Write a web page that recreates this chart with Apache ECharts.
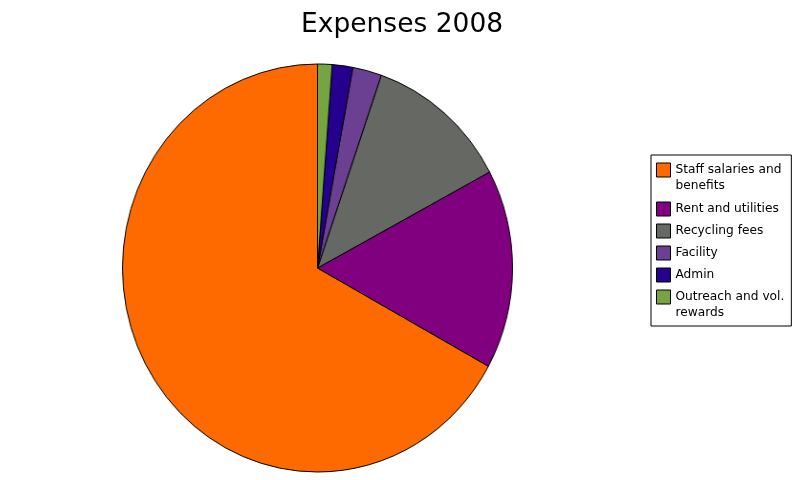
<!DOCTYPE html>
<html>
<head>
<meta charset="utf-8">
<script src="https://cdn.jsdelivr.net/npm/echarts@6/dist/echarts.min.js"></script>
<style>
html,body{margin:0;padding:0;background:#fff;}
#wrap{position:relative;width:800px;height:480px;overflow:hidden;}
#pie{position:absolute;left:0;top:0;width:800px;height:480px;transform:scaleX(0.956);transform-origin:317.5px 268px;}
#chart{position:absolute;left:0;top:0;width:800px;height:480px;}
</style>
</head>
<body>
<div id="wrap">
<div id="pie"></div>
<div id="chart"></div>
</div>
<script>
const categories = ['Staff salaries and\nbenefits', 'Rent and utilities', 'Recycling fees', 'Facility', 'Admin', 'Outreach and vol.\nrewards'];
const values = [67.0, 15.8, 11.9, 2.4, 1.7, 1.2];
const colors = ['#ff6a00', '#800080', '#666864', '#6b3f91', '#25008f', '#76a443'];
const titleText = 'Expenses 2008';

function pieData() {
  return categories.map((c, i) => ({name: c, value: values[i], itemStyle: {color: colors[i]}}));
}

// Pie (drawn in a horizontally squeezed layer to reproduce the elliptical pie of the reference)
const pieChart = echarts.init(document.getElementById('pie'), null, {renderer: 'canvas'});
pieChart.setOption({
  animation: false,
  backgroundColor: '#ffffff',
  series: [{
    type: 'pie',
    center: [317.5, 268],
    radius: [0, 204],
    startAngle: 90,
    clockwise: false,
    avoidLabelOverlap: false,
    label: {show: false},
    labelLine: {show: false},
    emphasis: {disabled: true},
    itemStyle: {borderColor: '#000', borderWidth: 1},
    data: pieData()
  }]
});

const legendFont = {fontFamily: 'DejaVu Sans', fontSize: 12.2, lineHeight: 16, color: '#000'};

// Title and legend layer (unscaled text)
const chart = echarts.init(document.getElementById('chart'), null, {renderer: 'canvas'});
chart.setOption({
  animation: false,
  backgroundColor: 'transparent',
  title: {
    text: titleText,
    left: 301,
    top: 11.5,
    padding: 0,
    textStyle: {fontFamily: 'DejaVu Sans', fontSize: 26.5, fontWeight: 'normal', color: '#000'}
  },
  legend: {
    orient: 'vertical',
    left: 651,
    top: 155,
    padding: [7, 7, 4, 5],
    itemGap: 6,
    itemWidth: 14,
    itemHeight: 14,
    icon: 'rect',
    borderColor: '#000',
    borderWidth: 1,
    borderRadius: 0,
    backgroundColor: '#fff',
    selectedMode: false,
    itemStyle: {borderColor: '#000', borderWidth: 1, opacity: 1},
    textStyle: Object.assign({}, legendFont, {
      rich: {
        a: Object.assign({}, legendFont),
        s: {fontFamily: 'DejaVu Sans', fontSize: 1, lineHeight: 1, color: 'rgba(0,0,0,0)'}
      }
    }),
    formatter: function (name) {
      return name.indexOf('\n') >= 0
        ? name.split('\n').map(function (s) { return '{a|' + s + '}'; }).join('\n') + '\n{s| }'
        : name;
    },
    data: categories.map(function (c) {
      return c.indexOf('\n') >= 0 ? {name: c, textStyle: {height: 16}} : {name: c};
    })
  },
  series: [{
    type: 'pie',
    center: [317.5, 268],
    radius: [0, 0],
    silent: true,
    startAngle: 90,
    clockwise: false,
    label: {show: false},
    labelLine: {show: false},
    emphasis: {disabled: true},
    itemStyle: {borderWidth: 0},
    data: pieData()
  }]
});
</script>
</body>
</html>
